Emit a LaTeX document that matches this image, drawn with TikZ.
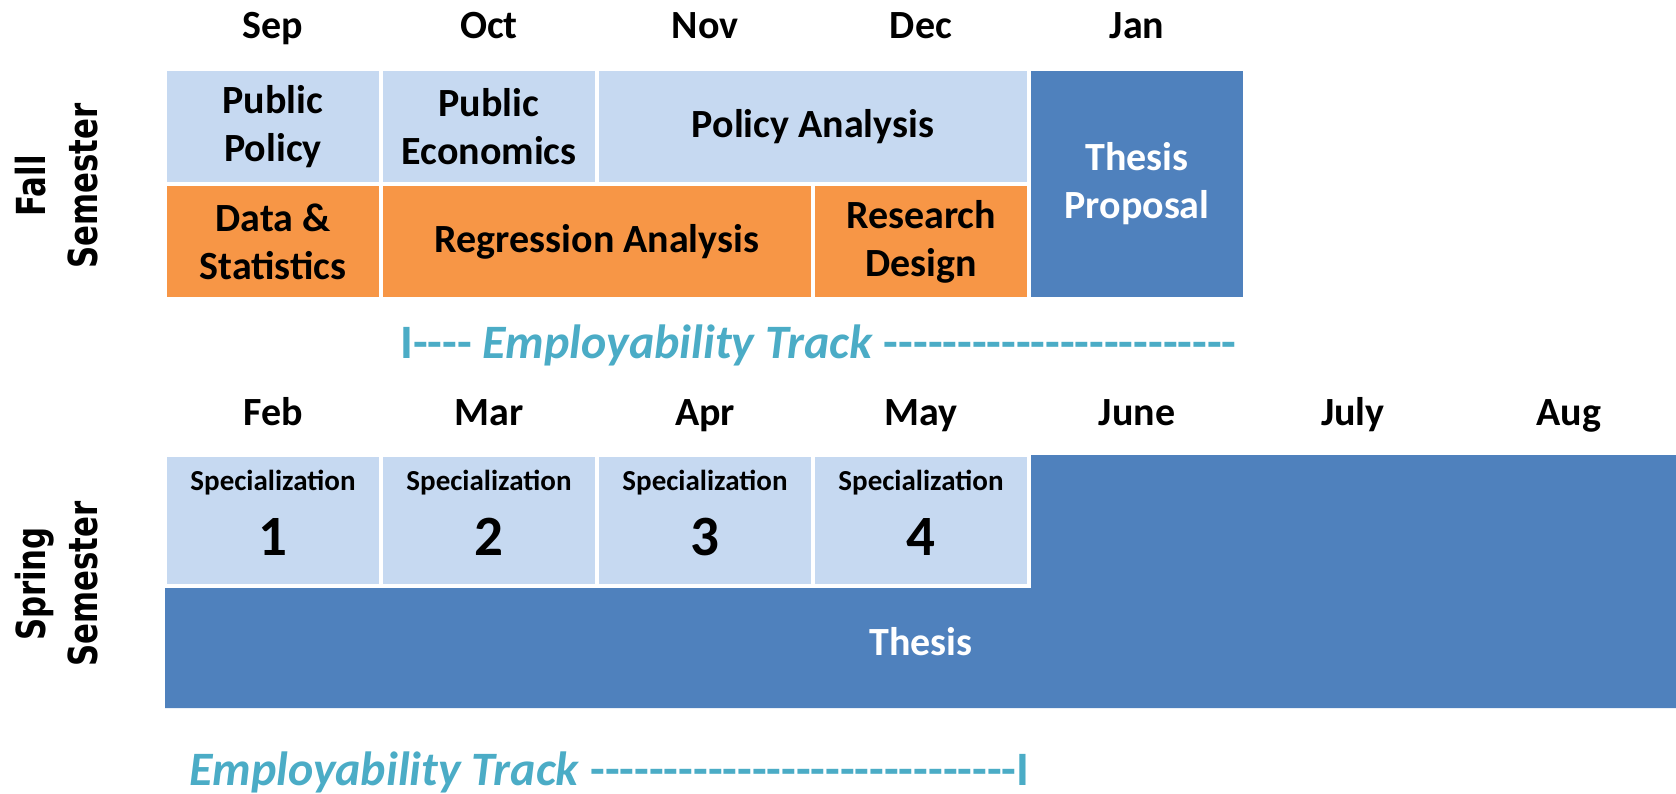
\documentclass[tikz,border=0pt]{standalone}
\usepackage{fontspec}
\setmainfont{Carlito}
\newfontfamily\semfont[FakeStretch=0.77]{DejaVu Sans}
\definecolor{mplight}{RGB}{198,217,241}
\definecolor{mporange}{RGB}{247,150,70}
\definecolor{mpblue}{RGB}{79,129,189}
\definecolor{mpaqua}{RGB}{75,172,198}
% a row of single hyphens (no en/em dash ligatures)
\newcommand\dashrun[1]{\count255=0 \loop\ifnum\count255<#1 \mbox{-}\advance\count255 by 1 \repeat}

\begin{document}
\begin{tikzpicture}[x=1pt,y=-1pt,
    month/.style={anchor=base,font=\bfseries\fontsize{40}{48}\selectfont},
    cell/.style={draw=white,line width=4pt,inner sep=0pt,align=center,
      minimum height=115pt,font=\bfseries\fontsize{40}{48}\selectfont},
    core/.style={cell,fill=mplight},
    method/.style={cell,fill=mporange},
    spec/.style={cell,fill=mplight,minimum width=216pt,minimum height=131pt},
    track/.style={anchor=base west,inner sep=0pt,text=mpaqua,
      font=\bfseries\fontsize{48}{58}\selectfont},
    sem/.style={rotate=90,align=center,inner sep=0pt,
      font=\semfont\bfseries\fontsize{40}{52}\selectfont}]
  \useasboundingbox (0,0) rectangle (1676,794);

  % Fall semester: months and courses.
  \node[sem] (fall) at (57,186) {Fall\\Semester};
  \foreach \m [count=\i from 0] in {Sep,Oct,Nov,Dec,Jan}
    \node[month] (fall-\m) at (273+216*\i,39) {\m};
  \node[core,minimum width=216pt] (pubpol) at (273,126.5) {Public\\Policy};
  \node[core,minimum width=216pt] (pubecon) at (489,126.5) {Public\\Economics};
  \node[core,minimum width=432pt] (polan) at (813,126.5) {Policy Analysis};
  \node[method,minimum width=216pt] (datastat) at (273,241.5) {Data \&\\Statistics};
  \node[method,minimum width=432pt] (regress) at (597,241.5) {Regression Analysis};
  \node[method,minimum width=216pt] (resdes) at (921,241.5) {Research\\Design};
  \node[cell,fill=mpblue,text=white,minimum width=216pt,minimum height=230pt]
    (proposal) at (1137,184) {Thesis\\Proposal};
  \node[track] (track1) at (400,359)
    {I\dashrun{4} \textit{Employability Track} \dashrun{24}};

  % Spring semester: specializations on top of the thesis block.
  \node[sem] (spring) at (57,584) {Spring\\Semester};
  \foreach \m [count=\i from 0] in {Feb,Mar,Apr,May,June,July,Aug}
    \node[month] (spring-\m) at (273+216*\i,425) {\m};
  \fill[mpblue] (165,708) -- (165,586) -- (1029,586) -- (1029,455)
    -- (1676,455) -- (1676,708) -- cycle;
  \node[font=\bfseries\fontsize{40}{48}\selectfont,text=white] (thesis)
    at (921,642) {Thesis};
  \foreach \i in {1,...,4}{
    \node[spec] (spec\i) at (273+216*\i-216,520.5) {};
    \node[anchor=base,font=\bfseries\fontsize{29}{35}\selectfont]
      (spectitle\i) at (273+216*\i-216,490) {Specialization};
    \node[anchor=base,font=\bfseries\fontsize{57}{68}\selectfont]
      (specnum\i) at (273+216*\i-216,555) {\i};
  }
  \node[track] (track2) at (189,785)
    {\textit{Employability Track} \dashrun{29}I};
\end{tikzpicture}
\end{document}
